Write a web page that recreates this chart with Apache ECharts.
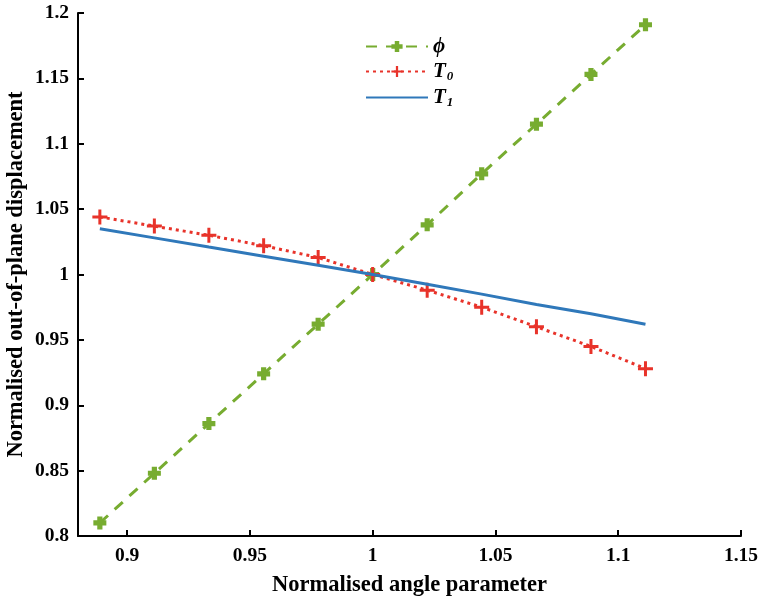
<!DOCTYPE html>
<html>
<head>
<meta charset="utf-8">
<script src="https://cdn.jsdelivr.net/npm/echarts@6/dist/echarts.min.js"></script>
<style>
html,body{margin:0;padding:0;background:#fff;}
#chart{width:760px;height:601px;}
</style>
</head>
<body>
<div id="chart"></div>
<script>
// Normalised angle parameter samples (40/45 ... 50/45)
const angle = [0.8889, 0.9111, 0.9333, 0.9556, 0.9778, 1.0, 1.0222, 1.0444, 1.0667, 1.0889, 1.1111];
const phiVals = [0.810, 0.848, 0.886, 0.924, 0.962, 1.000, 1.038, 1.077, 1.115, 1.153, 1.191];
const t0Vals  = [1.044, 1.037, 1.030, 1.022, 1.013, 1.000, 0.988, 0.975, 0.960, 0.945, 0.928];
const t1Vals  = [1.035, 1.028, 1.021, 1.014, 1.007, 1.000, 0.9925, 0.985, 0.977, 0.970, 0.962];

const xTicks = [0.9, 0.95, 1, 1.05, 1.1, 1.15];

const pair = (xs, ys) => xs.map((x, i) => [x, ys[i]]);

const FONT = '"Liberation Serif", "Times New Roman", serif';
const GREEN = '#77AC30', RED = '#E8332A', BLUE = '#2F78BA';

// Chunky filled cross used for the phi markers
const blobCross = 'path://M3,0 L7,0 L7,3 L10,3 L10,7 L7,7 L7,10 L3,10 L3,7 L0,7 L0,3 L3,3 Z';
// Plus sign used for the T0 markers
const plusSign = 'path://M4,0 L6,0 L6,4 L10,4 L10,6 L6,6 L6,10 L4,10 L4,6 L0,6 L0,4 L4,4 Z';

const chart = echarts.init(document.getElementById('chart'));
chart.setOption({
  animation: false,
  backgroundColor: '#fff',
  grid: { left: 78, right: 19, top: 13, bottom: 65, containLabel: false, outerBoundsMode: 'none' },
  xAxis: {
    type: 'value', min: 0.88, max: 1.15, interval: 0.05,
    name: 'Normalised angle parameter', nameLocation: 'middle', nameGap: 38, nameMoveOverlap: false,
    nameTextStyle: { fontFamily: FONT, fontWeight: 'bold', fontSize: 22.5, color: '#000' },
    axisLine: { show: true, lineStyle: { color: '#000', width: 2 } },
    axisTick: { show: true, inside: true, length: 6, lineStyle: { color: '#000', width: 2 },
      customValues: xTicks },
    axisLabel: { fontFamily: FONT, fontWeight: 'bold', fontSize: 19.5, color: '#000', margin: 10,
      customValues: xTicks, formatter: v => String(+v.toFixed(2)) },
    splitLine: { show: false }
  },
  yAxis: {
    type: 'value', min: 0.8, max: 1.2, interval: 0.05,
    name: 'Normalised out-of-plane displacement', nameLocation: 'middle', nameGap: 50, nameMoveOverlap: false,
    nameTextStyle: { fontFamily: FONT, fontWeight: 'bold', fontSize: 22.5, color: '#000' },
    axisLine: { show: true, lineStyle: { color: '#000', width: 2 } },
    axisTick: { show: true, inside: true, length: 6, lineStyle: { color: '#000', width: 2 } },
    axisLabel: { fontFamily: FONT, fontWeight: 'bold', fontSize: 19.5, color: '#000', margin: 9,
      formatter: v => String(+v.toFixed(2)) },
    splitLine: { show: false }
  },
  legend: {
    orient: 'vertical', left: 360, top: 31, itemWidth: 62, itemHeight: 14, itemGap: 4,
    textStyle: {
      fontFamily: FONT, fontSize: 20, fontWeight: 'bold', fontStyle: 'italic', color: '#000',
      rich: {
        m: { fontFamily: FONT, fontSize: 21, fontWeight: 'bold', fontStyle: 'italic', color: '#000' },
        s: { fontFamily: FONT, fontSize: 13, fontWeight: 'bold', fontStyle: 'italic', color: '#000', padding: [10, 0, 0, 1] }
      }
    },
    formatter: name => {
      if (name === 'phi') return '{m|\u03D5}';
      if (name === 'T0') return '{m|T}{s|0}';
      return '{m|T}{s|1}';
    },
    data: ['phi', 'T0', { name: 'T1', itemStyle: { opacity: 0 } }]
  },
  series: [
    {
      name: 'phi', type: 'line', data: pair(angle, phiVals),
      symbol: blobCross, symbolSize: 13, showAllSymbol: true,
      lineStyle: { color: GREEN, width: 3, type: [11, 9] },
      itemStyle: { color: GREEN }, z: 2
    },
    {
      name: 'T0', type: 'line', data: pair(angle, t0Vals),
      symbol: plusSign, symbolSize: 15, showAllSymbol: true,
      lineStyle: { color: RED, width: 3, type: [3, 4] },
      itemStyle: { color: RED }, z: 3
    },
    {
      name: 'T1', type: 'line', data: pair(angle, t1Vals),
      symbol: 'none',
      lineStyle: { color: BLUE, width: 3, type: 'solid' },
      itemStyle: { color: BLUE }, z: 4
    }
  ]
});
</script>
</body>
</html>
